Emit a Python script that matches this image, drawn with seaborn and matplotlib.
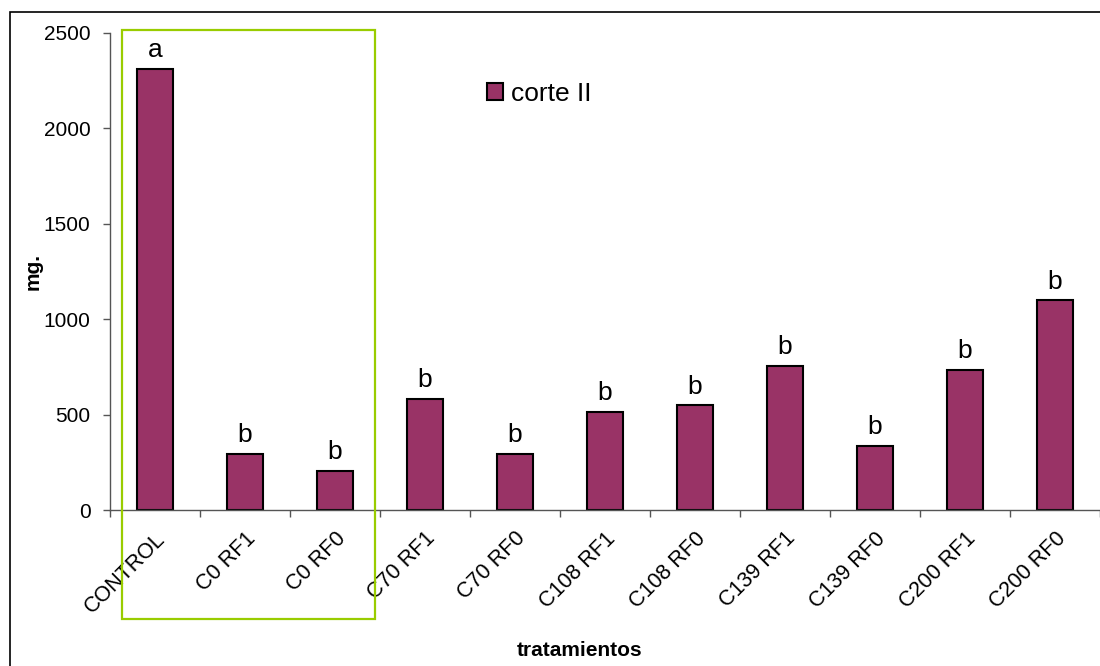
import matplotlib
matplotlib.use("Agg")
import matplotlib.pyplot as plt
from matplotlib.patches import Rectangle
from matplotlib.ticker import FixedLocator
import seaborn as sns
import pandas as pd
import numpy as np

# values
tratamientos = ["CONTROL", "C0 RF1", "C0 RF0", "C70 RF1", "C70 RF0", "C108 RF1",
                "C108 RF0", "C139 RF1", "C139 RF0", "C200 RF1", "C200 RF0"]
mg = [2310, 292, 205, 580, 292, 515, 548, 755, 338, 732, 1098]
letras = ["a", "b", "b", "b", "b", "b", "b", "b", "b", "b", "b"]

df = pd.DataFrame({"tratamiento": tratamientos, "mg": mg})

sns.set_style("white")
plt.rcParams["font.family"] = ["Liberation Sans", "DejaVu Sans"]
plt.rcParams["text.color"] = "black"
plt.rcParams["axes.labelcolor"] = "black"
plt.rcParams["xtick.labelcolor"] = "black"
plt.rcParams["ytick.labelcolor"] = "black"

fig = plt.figure(figsize=(11, 6.66), dpi=100)
ax = fig.add_axes([0.1, 0.2342, 0.9, 0.7163])

sns.barplot(data=df, x="tratamiento", y="mg", color="#993366", saturation=1,
            edgecolor="black", linewidth=1.5, width=0.4, ax=ax, label="corte II")

ax.set_xlim(-0.5, len(tratamientos) - 0.5)
ax.set_ylim(0, 2500)
ax.set_yticks([0, 500, 1000, 1500, 2000, 2500])
ax.tick_params(axis="y", which="major", length=5, width=1, color="#555555",
               labelsize=15, pad=9, left=True, direction="out")

# category labels at centres, tick marks at the boundaries
ax.set_xticks(range(len(tratamientos)))
ax.set_xticklabels(tratamientos, rotation=45, ha="right", rotation_mode="anchor",
                   fontsize=15.5)
ax.tick_params(axis="x", which="major", length=0, pad=13)
ax.xaxis.set_minor_locator(FixedLocator(np.arange(-0.5, len(tratamientos), 1.0)))
ax.tick_params(axis="x", which="minor", length=5, width=1, color="#555555",
               bottom=True, direction="out")

for side in ["top", "right"]:
    ax.spines[side].set_visible(False)
for side in ["left", "bottom"]:
    ax.spines[side].set_color("#555555")
    ax.spines[side].set_linewidth(1)

ax.set_xlabel("")
ax.set_ylabel("mg.", fontsize=15, fontweight="bold")
ax.yaxis.set_label_coords(-0.068, 0.5)
fig.text(580 / 1100, 1 - 650 / 666, "tratamientos", fontsize=15, fontweight="bold",
         ha="center", va="center")

for i, (v, t) in enumerate(zip(mg, letras)):
    ax.annotate(t, (i, v), xytext=(0, 5), textcoords="offset points",
                ha="center", va="bottom", fontsize=19)

ax.legend(loc="center left", bbox_to_anchor=(474 / 1100, 1 - 94 / 666),
          bbox_transform=fig.transFigure, frameon=False, fontsize=19,
          handlelength=0.6, handleheight=0.6, handletextpad=0.3, borderpad=0)

# outer chart frame and green highlight box
fig.patches.append(Rectangle((10 / 1100, -0.05), 1.2, 1.05 - 12 / 666,
                             transform=fig.transFigure, fill=False,
                             edgecolor="black", linewidth=1.2, zorder=-1))
fig.patches.append(Rectangle((122 / 1100, 1 - 619 / 666), 253 / 1100, 589 / 666,
                             transform=fig.transFigure, fill=False,
                             edgecolor="#99CC00", linewidth=1.6, zorder=5))

fig.savefig("out.png", dpi=100)
